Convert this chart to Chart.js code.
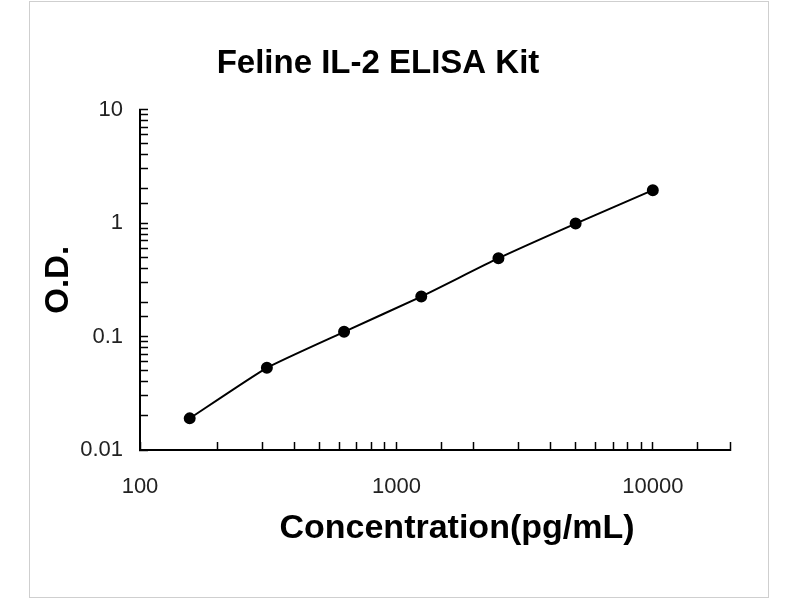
<!DOCTYPE html>
<html>
<head>
<meta charset="utf-8">
<script src="https://cdn.jsdelivr.net/npm/chart.js@4.4.1/dist/chart.umd.min.js"></script>
<style>
html, body { margin: 0; padding: 0; background: #fff; }
#wrap { position: relative; width: 800px; height: 600px; }
#frame { position: absolute; left: 29px; top: 1px; width: 738px; height: 595px; border: 1px solid #cfcfcf; pointer-events: none; }
</style>
</head>
<body>
<div id="wrap">
<canvas id="chart" width="800" height="600"></canvas>
<div id="frame"></div>
</div>
<script>
/* DATA */
const concentrations = [156.25, 312.5, 625, 1250, 2500, 5000, 10000];
const odValues = [0.019, 0.053, 0.11, 0.225, 0.49, 0.99, 1.95];
const xRange = [100, 20000];
const yRange = [0.01, 10];

const titleText = "Feline IL-2 ELISA Kit";
const xTitle = "Concentration(pg/mL)";
const yTitle = "O.D.";

const el = (id) => document.getElementById(id);

/* only label the powers of ten */
const decadeLabel = (v) => {
const e = Math.log10(v);
return Math.abs(e - Math.round(e)) < 1e-9 ? String(Number(v.toPrecision(6))) : "";
};

const tickFont = { family: "'Liberation Sans', Arial, sans-serif", size: 22 };
const boldFont = (size) => ({ family: "'Liberation Sans', Arial, sans-serif", size: size, weight: "bold" });

/* x axis title, a bit right of centre like the original */
const xTitlePlugin = {
id: "xTitle",
afterDraw(c) {
const { ctx, chartArea } = c;
ctx.save();
ctx.font = "bold 34px 'Liberation Sans', Arial, sans-serif";
ctx.fillStyle = "#000";
ctx.textAlign = "center";
ctx.textBaseline = "middle";
ctx.fillText(xTitle, (chartArea.left + chartArea.right) / 2 + 22, chartArea.bottom + 79);
ctx.restore();
}
};

new Chart(el("chart"), {
type: "line",
data: {
datasets: [{
data: concentrations.map((x, i) => ({ x: x, y: odValues[i] })),
borderColor: "#000",
backgroundColor: "#000",
borderWidth: 2,
pointRadius: 5,
pointHoverRadius: 5,
tension: 0.15
}]
},
options: {
responsive: false,
animation: false,
layout: { padding: { left: 26, right: 70, top: 0, bottom: 0 } },
plugins: {
legend: { display: false },
tooltip: { enabled: false },
title: {
display: true,
text: titleText,
color: "#000",
font: boldFont(33),
padding: { top: 44, bottom: 26 }
}
},
scales: {
x: {
type: "logarithmic",
min: xRange[0],
max: xRange[1],
afterFit(s) { s.height = 150; },
grid: { drawOnChartArea: false, tickLength: -8, tickWidth: 1.5, tickColor: "#000" },
border: { color: "#000", width: 2 },
ticks: {
autoSkip: false,
maxRotation: 0,
padding: 32,
color: "#222",
font: tickFont,
callback: (v) => decadeLabel(v)
}
},
y: {
type: "logarithmic",
min: yRange[0],
max: yRange[1],
afterFit(s) { s.width = 114; },
grid: { drawOnChartArea: false, tickLength: -8, tickWidth: 1.5, tickColor: "#000" },
border: { color: "#000", width: 2 },
title: {
display: true,
text: yTitle,
color: "#000",
font: boldFont(33),
padding: { top: 13, bottom: 0 }
},
ticks: {
autoSkip: false,
padding: 25,
color: "#222",
font: tickFont,
callback: (v) => decadeLabel(v)
}
}
}
},
plugins: [xTitlePlugin]
});
</script>
</body>
</html>
